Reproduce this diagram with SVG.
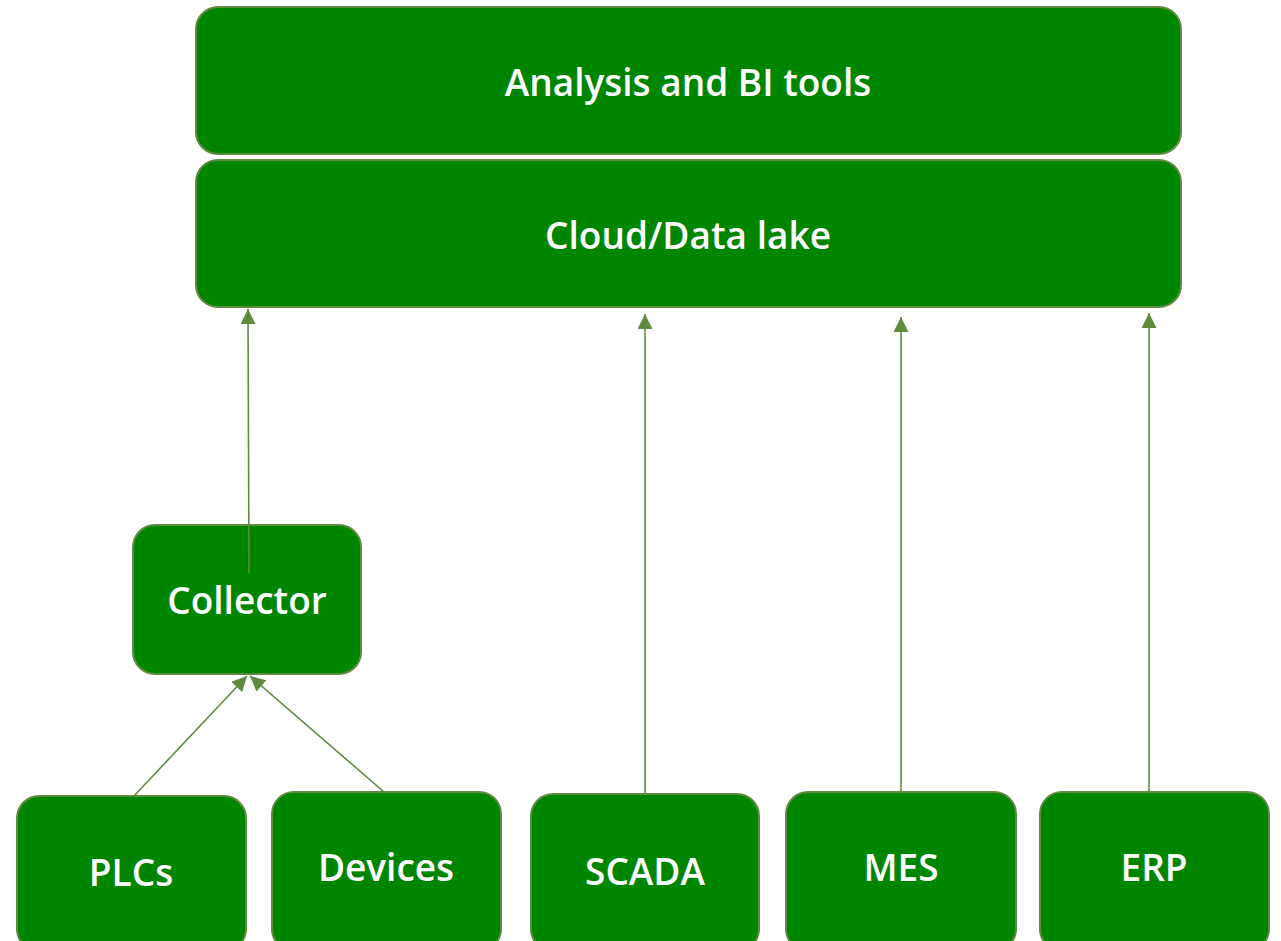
<svg xmlns="http://www.w3.org/2000/svg" width="1281" height="941" viewBox="0 0 1281 941">
<style>
.box{fill:#008500;stroke:#5f8a40;stroke-width:2}
.lbl{fill:#fff;font-family:"Open Sans","Liberation Sans",sans-serif;font-size:37px;font-weight:600;text-anchor:middle}
.conn{stroke:#5f8a40;stroke-width:1.6;fill:none}
</style>
<defs>
<marker id="ahb" viewBox="0 0 10 10" refX="10" refY="5" markerWidth="16" markerHeight="15" markerUnits="userSpaceOnUse" orient="auto">
<path d="M0,0 L10,5 L0,10 z" fill="#5f8a40"/>
</marker>
</defs>
<rect width="1281" height="941" fill="#fff"/>
<g id="analysis"><rect class="box" x="196" y="7" width="985" height="147" rx="22"/><text class="lbl" x="688" y="96">Analysis and BI tools</text></g>
<g id="cloud"><rect class="box" x="196" y="160" width="985" height="147" rx="22"/><text class="lbl" x="688" y="249">Cloud/Data lake</text></g>
<g id="collector"><rect class="box" x="133" y="525" width="228" height="149" rx="22"/><text class="lbl" x="247" y="614">Collector</text></g>
<g id="plcs"><rect class="box" x="17" y="796" width="229" height="155" rx="22"/><text class="lbl" x="131" y="886">PLCs</text></g>
<g id="devices"><rect class="box" x="272" y="792" width="229" height="159" rx="22"/><text class="lbl" x="386" y="881">Devices</text></g>
<g id="scada"><rect class="box" x="531" y="794" width="228" height="157" rx="22"/><text class="lbl" x="645" y="885">SCADA</text></g>
<g id="mes"><rect class="box" x="786" y="792" width="230" height="159" rx="22"/><text class="lbl" x="901" y="881">MES</text></g>
<g id="erp"><rect class="box" x="1040" y="792" width="229" height="159" rx="22"/><text class="lbl" x="1154" y="881">ERP</text></g>
<g id="connectors">
<line class="conn" x1="249" y1="573" x2="248" y2="309" marker-end="url(#ahb)"/>
<line class="conn" x1="645" y1="793" x2="645" y2="314" marker-end="url(#ahb)"/>
<line class="conn" x1="901" y1="791" x2="901" y2="317" marker-end="url(#ahb)"/>
<line class="conn" x1="1149" y1="791" x2="1149" y2="313" marker-end="url(#ahb)"/>
<line class="conn" x1="134" y1="796" x2="247" y2="676" marker-end="url(#ahb)"/>
<line class="conn" x1="384" y1="792" x2="250" y2="676" marker-end="url(#ahb)"/>
</g>
</svg>
